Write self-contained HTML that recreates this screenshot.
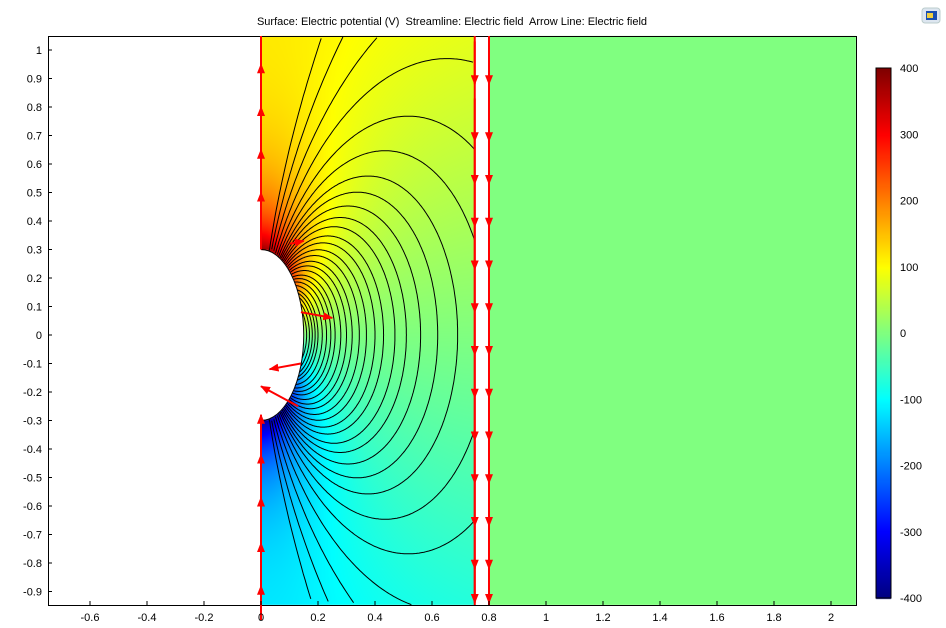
<!DOCTYPE html>
<html><head><meta charset="utf-8"><style>
html,body{margin:0;width:946px;height:628px;background:#fff;overflow:hidden;font-family:"Liberation Sans",sans-serif;}
#heat{position:absolute;left:0;top:0;display:block;}
#ov{position:absolute;left:0;top:0;display:block;overflow:hidden;}
text{font-family:"Liberation Sans",sans-serif;font-size:11px;fill:#000;}
</style></head><body>
<canvas id="heat" width="946" height="628"></canvas>
<svg id="ov" width="946" height="628"></svg>
<script>
const xTicks=[-0.6,-0.4,-0.2,0,0.2,0.4,0.6,0.8,1,1.2,1.4,1.6,1.8,2];
const yTicks=[1,0.9,0.8,0.7,0.6,0.5,0.4,0.3,0.2,0.1,0,-0.1,-0.2,-0.3,-0.4,-0.5,-0.6,-0.7,-0.8,-0.9];
const cbTicks=[400,300,200,100,0,-100,-200,-300,-400];
const streamL=[0.16,0.17,0.18,0.19,0.2,0.215,0.23,0.245,0.26,0.28,0.3,0.32,0.345,0.37,0.4,0.43,0.47,0.51,0.56,0.62,0.69,0.8,0.95,1.2,1.6,2.3,3.5];
const arrowsLeftY=[0.95,0.8,0.65,0.5,-0.42,-0.57,-0.73,-0.88];
const arrowsRightY=[0.98,0.78,0.63,0.48,0.33,0.18,0.03,-0.12,-0.27,-0.42,-0.57,-0.72,-0.84];
const vmin=-400,vmax=400;
const X0=261,Y0=335,S=285,L=48,T=36,R=856,B=605;
const sx=x=>X0+x*S, sy=y=>Y0-y*S;
const ax=0.15,ay=0.3;
function pot(x,y){const re=Math.sqrt((x/ax)**2+(y/ay)**2);return 65*y+360*(y/ay)/Math.pow(re,2.6);}
const stops=[[-400,0,0,128],[-300,0,0,255],[-200,0,128,255],[-100,0,255,255],[0,128,255,128],[100,255,255,0],[200,255,128,0],[300,255,0,0],[400,128,0,0]];
function cmap(v){v=Math.max(vmin,Math.min(vmax,v));for(let i=0;i<stops.length-1;i++){const a=stops[i],b=stops[i+1];if(v<=b[0]){const t=(v-a[0])/(b[0]-a[0]);return [a[1]+t*(b[1]-a[1]),a[2]+t*(b[2]-a[2]),a[3]+t*(b[3]-a[3])];}}return stops[8].slice(1);}
const ctx=document.getElementById('heat').getContext('2d');
const img=ctx.createImageData(946,628);
for(let py=T;py<B;py++)for(let px=L;px<R;px++){
 const x=(px+0.5-X0)/S,y=(Y0-py-0.5)/S;let c=null;
 if(x>=0&&x<=0.75){if((x/ax)**2+(y/ay)**2>1)c=cmap(pot(x,y));}
 else if(x>=0.8)c=cmap(0);
 if(c){const i=(py*946+px)*4;img.data[i]=c[0];img.data[i+1]=c[1];img.data[i+2]=c[2];img.data[i+3]=255;}
}
ctx.putImageData(img,0,0);
for(let py=68;py<=598;py++){const v=vmax-(py-68)/530*(vmax-vmin);const c=cmap(v);ctx.fillStyle=`rgb(${c[0]|0},${c[1]|0},${c[2]|0})`;ctx.fillRect(876,py,15,1);}
const svg=document.getElementById('ov');const NS='http://www.w3.org/2000/svg';
function mk(t,a,p){const e=document.createElementNS(NS,t);for(const k in a)e.setAttribute(k,a[k]);(p||svg).appendChild(e);return e;}
const defs=mk('defs',{});
const mkr=mk('marker',{id:'ah',markerWidth:10,markerHeight:8,refX:9,refY:4,orient:'auto',markerUnits:'userSpaceOnUse'},defs);
mk('path',{d:'M0,0 L10,4 L0,8 Z',fill:'#f00'},mkr);
const sg=mk('g',{fill:'none',stroke:'#000','stroke-width':1});

for(const Lv of streamL){let d='',pen=false;
 for(let i=1;i<600;i++){const th=Math.PI*i/600;const x=Lv*Math.sin(th)**3,y=2.1*Lv*Math.sin(th)**2*Math.cos(th);
  const px=sx(x),py=sy(y);
  if((x/ax)**2+(y/ay)**2<1||x>0.75||py<T||py>B){pen=false;continue;}
  d+=(pen?'L':'M')+px.toFixed(1)+','+py.toFixed(1);pen=true;}
 if(!d)continue;
 const p=mk('path',{d},sg);}
mk('path',{d:`M${sx(0)},${sy(ay)} A${ax*S},${ay*S} 0 0 1 ${sx(0)},${sy(-ay)}`,fill:'none',stroke:'#000','stroke-width':1});
const fr=mk('rect',{x:L+0.5,y:T+0.5,width:R-L,height:B-T,fill:'none',stroke:'#000','stroke-width':1});

const ag=mk('g',{stroke:'#f00','stroke-width':2});

function arrow(x1,y1,x2,y2){const a=mk('line',{x1:sx(x1),y1:sy(y1),x2:sx(x2),y2:sy(y2),'marker-end':'url(#ah)'},ag);}
for(const y of arrowsLeftY)arrow(0,y-0.12,0,y);
mk('line',{x1:sx(0),y1:T,x2:sx(0),y2:sy(0.3)},ag);
mk('line',{x1:sx(0),y1:sy(-0.3),x2:sx(0),y2:B},ag);
for(const xr of [0.75,0.8]){mk('line',{x1:sx(xr),y1:T,x2:sx(xr),y2:B},ag);for(const y of arrowsRightY)arrow(xr,y+0.05,xr,y-0.1);}
arrow(0.1,0.32,0.15,0.33);arrow(0.14,0.08,0.25,0.06);arrow(0.14,-0.1,0.03,-0.12);arrow(0.13,-0.25,0,-0.18);arrow(0,-0.33,0,-0.28);
for(const v of xTicks){const x=sx(v);mk('line',{x1:x,y1:B,x2:x,y2:B-4,stroke:'#000'});const t=mk('text',{x:x,y:621,'text-anchor':'middle'});t.textContent=String(v);}
for(const v of yTicks){const y=sy(v);mk('line',{x1:L,y1:y,x2:L+4,y2:y,stroke:'#000'});const t=mk('text',{x:42,y:y+4,'text-anchor':'end'});t.textContent=String(v);}
const cbf=mk('rect',{x:876,y:68,width:15,height:530,fill:'none',stroke:'#000'});
for(const v of cbTicks){const y=68+(vmax-v)/(vmax-vmin)*530;const t=mk('text',{x:900,y:y+4});t.textContent=String(v);}
const ti=mk('text',{x:452,y:25,'text-anchor':'middle','font-size':12});ti.textContent='Surface: Electric potential (V)  Streamline: Electric field  Arrow Line: Electric field';ti.style.whiteSpace='pre';

const ic=mk('g',{});
mk('rect',{x:922,y:8,width:18,height:15,rx:3,fill:'#dde6f0',stroke:'#bcc'},ic);mk('rect',{x:926,y:11,width:11,height:9,fill:'#1a4fb0'},ic);mk('rect',{x:927,y:13,width:6,height:5,fill:'#f0d040'},ic);
</script>
</body></html>
